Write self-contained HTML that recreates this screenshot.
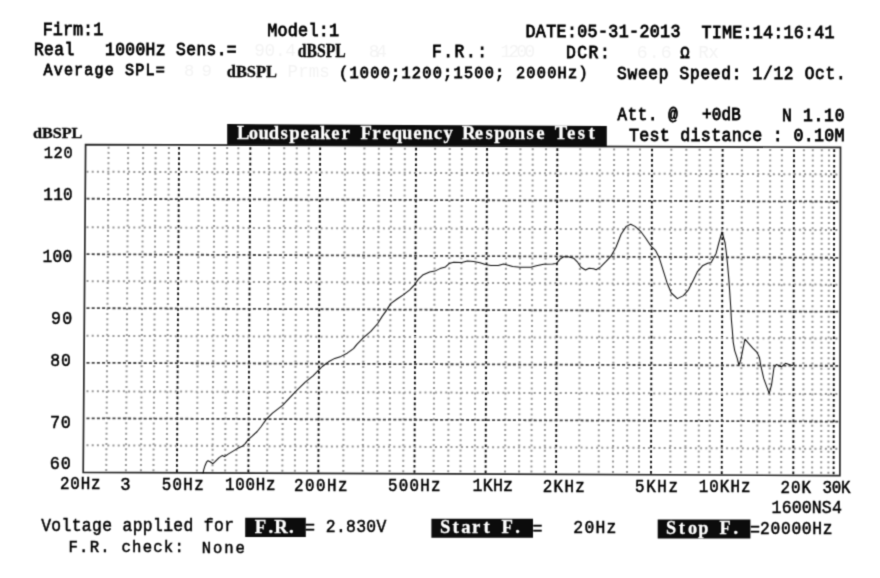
<!DOCTYPE html><html><head><meta charset="utf-8"><title>Loudspeaker Frequency Response Test</title><style>
html,body{margin:0;padding:0;background:#fff;width:880px;height:578px;overflow:hidden}
svg{display:block} text{white-space:pre}
.m,.w{font-family:"Liberation Mono",monospace;font-weight:bold;fill:#000;stroke:#000;stroke-width:0.05}.r{font-family:"Liberation Mono",monospace;fill:#000;stroke:#000;stroke-width:0.8}.l{font-family:"Liberation Mono",monospace;fill:#000;stroke:#000;stroke-width:0.5}
.w{fill:#fff;stroke:#fff;stroke-width:0.45}
.ws{font-family:"Liberation Serif",serif;font-weight:bold;fill:#fff;stroke:#fff;stroke-width:0.3}.s,.ss{font-family:"Liberation Serif",serif;font-weight:bold;fill:#0a0a0a;stroke:#0a0a0a;stroke-width:0.3}
.g{font-family:"Liberation Mono",monospace;fill:#f4f4f4}
</style></head><body>
<svg width="880" height="578" viewBox="0 0 880 578">
<defs><filter id="bl" x="0" y="0" width="880" height="578" filterUnits="userSpaceOnUse" color-interpolation-filters="sRGB"><feConvolveMatrix order="3" kernelMatrix="1 4 1 4 16 4 1 4 1" divisor="36" edgeMode="none"/></filter></defs>
<rect width="880" height="578" fill="#fff"/>
<g filter="url(#bl)"><rect width="880" height="578" fill="#fff"/>
<style>.vn,.hn{stroke:#999;stroke-width:2;stroke-dasharray:2 3.2}.vj{stroke:#111;stroke-width:1.9;stroke-dasharray:2.6 2.6}.hj{stroke:#444;stroke-width:1.8;stroke-dasharray:3 2.2}</style>
<g><line class="vn" x1="108.57" y1="146.68" x2="106.25" y2="471.91"/><line class="vn" x1="128.17" y1="146.75" x2="125.89" y2="472.00"/><line class="vn" x1="143.17" y1="146.81" x2="140.93" y2="472.06"/><line class="vn" x1="155.67" y1="146.85" x2="153.46" y2="472.12"/><line class="vn" x1="168.87" y1="146.90" x2="166.69" y2="472.17"/><line class="vj" x1="179.07" y1="146.93" x2="176.91" y2="472.22"/><line class="vn" x1="198.96" y1="147.01" x2="196.85" y2="472.30"/><line class="vn" x1="214.56" y1="147.06" x2="212.49" y2="472.37"/><line class="vn" x1="227.16" y1="147.11" x2="225.12" y2="472.43"/><line class="vn" x1="238.36" y1="147.15" x2="236.34" y2="472.48"/><line class="vj" x1="250.36" y1="147.19" x2="248.37" y2="472.53"/><line class="vn" x1="269.06" y1="147.26" x2="267.11" y2="472.61"/><line class="vn" x1="284.26" y1="147.31" x2="282.35" y2="472.68"/><line class="vn" x1="296.76" y1="147.36" x2="294.88" y2="472.73"/><line class="vn" x1="308.85" y1="147.40" x2="307.00" y2="472.78"/><line class="vj" x1="320.15" y1="147.44" x2="318.33" y2="472.83"/><line class="vn" x1="345.05" y1="147.53" x2="343.29" y2="472.94"/><line class="vn" x1="364.45" y1="147.60" x2="362.73" y2="473.03"/><line class="vn" x1="378.85" y1="147.65" x2="377.16" y2="473.09"/><line class="vn" x1="391.25" y1="147.69" x2="389.59" y2="473.14"/><line class="vn" x1="404.85" y1="147.74" x2="403.22" y2="473.20"/><line class="vj" x1="416.05" y1="147.78" x2="414.45" y2="473.25"/><line class="vn" x1="435.14" y1="147.85" x2="433.59" y2="473.33"/><line class="vn" x1="449.74" y1="147.90" x2="448.22" y2="473.40"/><line class="vn" x1="461.94" y1="147.95" x2="460.45" y2="473.45"/><line class="vn" x1="476.24" y1="148.00" x2="474.78" y2="473.51"/><line class="vj" x1="487.04" y1="148.04" x2="485.61" y2="473.56"/><line class="vn" x1="506.44" y1="148.11" x2="505.05" y2="473.65"/><line class="vn" x1="520.44" y1="148.16" x2="519.08" y2="473.71"/><line class="vn" x1="532.74" y1="148.20" x2="531.41" y2="473.76"/><line class="vn" x1="546.03" y1="148.25" x2="544.74" y2="473.82"/><line class="vj" x1="557.33" y1="148.29" x2="556.07" y2="473.87"/><line class="vn" x1="580.33" y1="148.37" x2="579.12" y2="473.97"/><line class="vn" x1="599.83" y1="148.44" x2="598.67" y2="474.05"/><line class="vn" x1="614.13" y1="148.49" x2="613.00" y2="474.12"/><line class="vn" x1="628.13" y1="148.54" x2="627.03" y2="474.18"/><line class="vn" x1="640.03" y1="148.58" x2="638.96" y2="474.23"/><line class="vj" x1="652.03" y1="148.63" x2="650.99" y2="474.28"/><line class="vn" x1="671.33" y1="148.69" x2="670.33" y2="474.36"/><line class="vn" x1="686.32" y1="148.75" x2="685.36" y2="474.43"/><line class="vn" x1="699.62" y1="148.80" x2="698.70" y2="474.49"/><line class="vn" x1="710.52" y1="148.84" x2="709.62" y2="474.54"/><line class="vj" x1="722.62" y1="148.88" x2="721.75" y2="474.59"/><line class="vn" x1="741.92" y1="148.95" x2="741.09" y2="474.67"/><line class="vn" x1="757.92" y1="149.00" x2="757.13" y2="474.74"/><line class="vn" x1="770.22" y1="149.05" x2="769.46" y2="474.80"/><line class="vn" x1="781.92" y1="149.09" x2="781.18" y2="474.85"/><line class="vj" x1="794.02" y1="149.13" x2="793.31" y2="474.90"/><line class="vn" x1="803.92" y1="149.17" x2="803.23" y2="474.94"/><line class="vn" x1="812.82" y1="149.20" x2="812.16" y2="474.98"/><line class="vn" x1="821.82" y1="149.23" x2="821.18" y2="475.02"/><line class="vn" x1="829.01" y1="149.26" x2="828.39" y2="475.05"/><line class="vj" x1="834.21" y1="149.28" x2="833.60" y2="475.08"/><line class="hn" x1="86.50" y1="445.30" x2="839.50" y2="448.81"/><line class="hj" x1="86.50" y1="418.31" x2="839.50" y2="421.61"/><line class="hn" x1="86.50" y1="391.22" x2="839.50" y2="394.09"/><line class="hj" x1="86.50" y1="362.81" x2="839.50" y2="365.80"/><line class="hn" x1="86.50" y1="335.82" x2="839.50" y2="338.49"/><line class="hj" x1="86.50" y1="308.10" x2="839.50" y2="311.72"/><line class="hn" x1="86.50" y1="281.10" x2="839.50" y2="284.72"/><line class="hj" x1="86.50" y1="254.20" x2="839.50" y2="257.82"/><line class="hn" x1="86.50" y1="227.32" x2="839.50" y2="229.99"/><line class="hj" x1="86.50" y1="198.72" x2="839.50" y2="201.59"/><line class="hn" x1="86.50" y1="171.72" x2="839.50" y2="174.39"/></g>
<polygon points="85.6,144.6 840.5,147.3 839.9,475.6 83.2,472.3" fill="none" stroke="#262626" stroke-width="1.7"/>
<polyline points="203.0,473.2 203.8,469.7 205.0,465.7 206.5,462.2 208.0,460.7 210.1,461.7 212.9,463.7 215.1,461.7 219.1,457.6 222.1,455.6 224.6,456.6 228.1,454.1 233.1,451.1 237.2,448.6 242.2,446.3 245.2,443.6 248.2,439.6 252.2,436.1 257.2,431.5 261.2,426.5 266.2,419.4 272.5,413.2 282.6,405.4 295.0,392.2 305.2,382.1 313.0,375.8 318.4,370.4 322.3,366.5 328.5,361.8 334.8,358.4 341.0,356.4 347.2,353.2 353.5,348.6 356.9,344.3 363.0,338.2 370.8,331.3 377.7,323.5 382.0,316.6 386.3,310.6 390.7,303.6 396.7,299.3 403.6,294.6 409.7,289.8 414.9,284.3 418.3,279.4 422.7,275.1 429.6,272.1 434.8,271.1 440.0,268.6 445.5,266.9 449.1,263.6 453.6,262.2 461.8,262.5 467.3,261.1 473.6,261.5 480.0,262.7 485.5,264.5 490.9,265.5 498.2,265.5 503.6,264.0 507.3,264.9 512.7,266.5 520.0,267.3 530.9,267.3 536.4,265.8 543.6,264.2 552.7,264.0 556.4,263.6 560.0,259.1 563.6,256.7 568.2,256.7 573.6,258.2 577.3,261.8 580.9,267.3 585.5,270.0 589.1,268.2 593.6,268.7 596.1,269.7 600.4,267.1 605.6,261.9 610.8,256.4 616.0,247.2 621.1,234.2 626.3,226.4 630.7,224.2 635.0,226.4 640.2,230.8 645.4,237.7 650.6,245.5 655.7,250.7 659.2,257.6 662.7,268.8 667.0,282.7 671.3,293.0 677.4,298.6 683.4,295.6 688.6,289.6 693.8,279.2 697.3,271.9 702.5,265.8 707.7,263.3 711.1,262.4 714.6,256.3 716.1,253.4 718.8,243.0 722.0,232.0 725.1,243.0 726.5,254.0 727.6,265.0 728.8,278.8 729.8,292.7 730.7,306.5 731.4,320.0 732.3,330.0 733.2,342.1 734.7,350.6 737.1,357.8 738.9,365.1 740.7,360.3 742.6,350.6 745.0,339.1 748.6,343.3 752.8,348.2 757.1,352.4 759.5,357.8 760.7,365.1 763.7,378.4 766.8,386.9 769.2,393.6 771.6,384.5 774.0,367.5 776.5,364.5 778.9,365.7 781.3,366.9 785.5,363.3 790.4,365.1 792.8,365.4" fill="none" stroke="#0d0d0d" stroke-width="1.05" stroke-linejoin="round" stroke-linecap="round"/>
<polygon points="227.2,124.1 606.8,125.9 606.8,146.2 227.2,144.7" fill="#0c0c0c"/>
<polygon points="245.2,517.7 305.8,517.7 305.8,536.9 245.2,536.9" fill="#0c0c0c"/>
<polygon points="431.4,518.8 533.0,518.8 533.0,537.8 431.4,537.8" fill="#0c0c0c"/>
<polygon points="657.7,519.4 750.4,519.4 750.4,538.4 657.7,538.4" fill="#0c0c0c"/>
<text id="t0" class="r" transform="translate(42.71,0) scale(0.9,1)" x="0" y="34.60" font-size="18.67" textLength="67.34" lengthAdjust="spacing">Firm:1</text>
<text id="t1" class="r" transform="translate(267.14,0) scale(0.9,1)" x="0" y="35.60" font-size="18.67" textLength="80.08" lengthAdjust="spacing">Model:1</text>
<text id="t2" class="r" transform="translate(525.48,0) scale(0.9,1)" x="0" y="37.30" font-size="18.52" textLength="172.20" lengthAdjust="spacing">DATE:05-31-2013</text>
<text id="t3" class="r" transform="translate(701.38,0) scale(0.9,1)" x="0" y="37.60" font-size="18.67" textLength="148.15" lengthAdjust="spacing">TIME:14:16:41</text>
<text id="t4" class="r" transform="translate(33.96,0) scale(0.9,1)" x="0" y="55.30" font-size="18.07" textLength="225.19" lengthAdjust="spacing">Real   1000Hz Sens.=</text>
<text id="t5" class="s" x="297.86" y="56.60" font-size="18.17" textLength="47.90" lengthAdjust="spacingAndGlyphs">dBSPL</text>
<text id="t6" class="r" transform="translate(432.06,0) scale(0.9,1)" x="0" y="57.20" font-size="18.07" textLength="60.99" lengthAdjust="spacing">F.R.:</text>
<text id="t7" class="r" transform="translate(566.00,0) scale(0.9,1)" x="0" y="57.80" font-size="18.22" textLength="48.65" lengthAdjust="spacing">DCR:</text>
<text id="t8" class="r" transform="translate(680.35,0) scale(0.9,1)" x="0" y="58.20" font-size="17.31">Ω</text>
<text id="t9" class="r" transform="translate(43.50,0) scale(0.9,1)" x="0" y="75.50" font-size="16.85" textLength="134.75" lengthAdjust="spacing">Average SPL=</text>
<text id="t10" class="s" x="226.79" y="76.80" font-size="17.56" textLength="50.15" lengthAdjust="spacingAndGlyphs">dBSPL</text>
<text id="t11" class="r" transform="translate(339.04,0) scale(0.9,1)" x="0" y="77.60" font-size="17.00" textLength="276.14" lengthAdjust="spacing">(1000;1200;1500; 2000Hz)</text>
<text id="t12" class="r" transform="translate(617.08,0) scale(0.9,1)" x="0" y="79.00" font-size="17.91" textLength="253.94" lengthAdjust="spacing">Sweep Speed: 1/12 Oct.</text>
<text id="t13" class="r" transform="translate(617.50,0) scale(0.9,1)" x="0" y="120.10" font-size="17.46" textLength="67.01" lengthAdjust="spacing">Att. @</text>
<text id="t14" class="r" transform="translate(701.89,0) scale(0.9,1)" x="0" y="120.30" font-size="17.76" textLength="43.23" lengthAdjust="spacing">+0dB</text>
<text id="t15" class="r" transform="translate(781.90,0) scale(0.9,1)" x="0" y="120.60" font-size="18.22" textLength="69.56" lengthAdjust="spacing">N 1.10</text>
<text id="t16" class="r" transform="translate(628.88,0) scale(0.9,1)" x="0" y="140.80" font-size="18.52" textLength="239.64" lengthAdjust="spacing">Test distance : 0.10M</text>
<text id="t17" class="s" x="32.97" y="138.00" font-size="15.58" textLength="49.39" lengthAdjust="spacingAndGlyphs">dBSPL</text>
<text id="t18" class="l" transform="translate(43.79,0) scale(0.9,1)" x="0" y="158.50" font-size="17.00" textLength="32.05" lengthAdjust="spacing">120</text>
<text id="t19" class="l" transform="translate(43.34,0) scale(0.9,1)" x="0" y="200.00" font-size="17.76" textLength="32.60" lengthAdjust="spacing">110</text>
<text id="t20" class="l" transform="translate(42.52,0) scale(0.9,1)" x="0" y="262.30" font-size="18.07" textLength="33.08" lengthAdjust="spacing">100</text>
<text id="t21" class="l" transform="translate(50.95,0) scale(0.9,1)" x="0" y="324.50" font-size="18.52" textLength="23.75" lengthAdjust="spacing">90</text>
<text id="t22" class="l" transform="translate(50.24,0) scale(0.9,1)" x="0" y="366.10" font-size="18.22" textLength="22.97" lengthAdjust="spacing">80</text>
<text id="t23" class="l" transform="translate(50.00,0) scale(0.9,1)" x="0" y="428.30" font-size="18.67" textLength="23.26" lengthAdjust="spacing">70</text>
<text id="t24" class="l" transform="translate(49.76,0) scale(0.9,1)" x="0" y="469.40" font-size="18.67" textLength="23.53" lengthAdjust="spacing">60</text>
<text id="t25" class="l" transform="translate(59.89,0) scale(0.9,1)" x="0" y="489.50" font-size="17.61" textLength="45.18" lengthAdjust="spacing">20Hz</text>
<text id="t26" class="l" transform="translate(120.32,0) scale(0.9,1)" x="0" y="490.00" font-size="19.13">3</text>
<text id="t27" class="l" transform="translate(161.71,0) scale(0.9,1)" x="0" y="490.00" font-size="17.61" textLength="46.60" lengthAdjust="spacing">50Hz</text>
<text id="t28" class="l" transform="translate(224.95,0) scale(0.9,1)" x="0" y="490.30" font-size="17.61" textLength="56.32" lengthAdjust="spacing">100Hz</text>
<text id="t29" class="l" transform="translate(294.09,0) scale(0.9,1)" x="0" y="490.60" font-size="17.61" textLength="59.40" lengthAdjust="spacing">200Hz</text>
<text id="t30" class="l" transform="translate(387.91,0) scale(0.9,1)" x="0" y="491.00" font-size="17.61" textLength="58.37" lengthAdjust="spacing">500Hz</text>
<text id="t31" class="l" transform="translate(472.60,0) scale(0.9,1)" x="0" y="491.40" font-size="18.52" textLength="45.02" lengthAdjust="spacing">1KHz</text>
<text id="t32" class="l" transform="translate(542.69,0) scale(0.9,1)" x="0" y="491.70" font-size="17.61" textLength="46.73" lengthAdjust="spacing">2KHz</text>
<text id="t33" class="l" transform="translate(635.11,0) scale(0.9,1)" x="0" y="492.10" font-size="17.61" textLength="47.60" lengthAdjust="spacing">5KHz</text>
<text id="t34" class="l" transform="translate(698.65,0) scale(0.9,1)" x="0" y="492.40" font-size="17.61" textLength="57.66" lengthAdjust="spacing">10KHz</text>
<text id="t35" class="l" transform="translate(780.49,0) scale(0.9,1)" x="0" y="492.70" font-size="17.61" textLength="34.03" lengthAdjust="spacing">20K</text>
<text id="t36" class="l" transform="translate(822.41,0) scale(0.9,1)" x="0" y="492.90" font-size="17.61" textLength="31.34" lengthAdjust="spacing">30K</text>
<text id="t37" class="l" transform="translate(771.61,0) scale(0.9,1)" x="0" y="513.50" font-size="18.37" textLength="78.04" lengthAdjust="spacing">1600NS4</text>
<text id="t38" class="l" transform="translate(41.17,0) scale(0.9,1)" x="0" y="531.25" font-size="18.14" textLength="214.22" lengthAdjust="spacing">Voltage applied for</text>
<text id="t39" class="l" transform="translate(305.06,0) scale(0.9,1)" x="0" y="533.40" font-size="18.52">=</text>
<text id="t40" class="l" transform="translate(325.85,0) scale(0.9,1)" x="0" y="532.30" font-size="18.22" textLength="67.21" lengthAdjust="spacing">2.830V</text>
<text id="t41" class="l" transform="translate(532.56,0) scale(0.9,1)" x="0" y="534.30" font-size="18.52">=</text>
<text id="t42" class="l" transform="translate(573.35,0) scale(0.9,1)" x="0" y="532.80" font-size="18.22" textLength="47.71" lengthAdjust="spacing">20Hz</text>
<text id="t43" class="l" transform="translate(750.06,0) scale(0.9,1)" x="0" y="535.10" font-size="18.52">=</text>
<text id="t44" class="l" transform="translate(760.11,0) scale(0.9,1)" x="0" y="533.70" font-size="18.07" textLength="80.47" lengthAdjust="spacing">20000Hz</text>
<text id="t45" class="l" transform="translate(68.52,0) scale(0.9,1)" x="0" y="552.50" font-size="17.38" textLength="128.10" lengthAdjust="spacing">F.R. check:</text>
<text id="t46" class="l" transform="translate(201.77,0) scale(0.9,1)" x="0" y="552.70" font-size="17.31" textLength="47.79" lengthAdjust="spacing">None</text>
<text id="t47" class="ws" transform="scale(0.96,1)" x="246.85 259.16 269.29 279.96 292.26 301.31 313.08 323.21 333.34 345.11 355.78 368.35 375.51 387.81 398.48 408.06 418.74 430.51 440.09 451.86 461.99 475.10 481.17 494.56 505.77 514.82 526.04 536.17 548.47 558.61 571.18 577.79 590.64 601.85 613.07" y="139.30" font-size="19.50">Loudspeaker Frequency Response Test</text>
<text id="t48" class="ws" transform="scale(0.96,1)" x="265.40 279.64 285.76 301.09" y="533.10" font-size="19.50">F.R.</text>
<text id="t49" class="ws" transform="scale(0.96,1)" x="458.34 471.28 480.42 491.74 503.59 515.17 522.42 536.71" y="533.20" font-size="19.50">Start F.</text>
<text id="t50" class="ws" transform="scale(0.96,1)" x="693.78 707.14 716.77 727.47 741.62 749.41 764.09" y="533.90" font-size="19.09">Stop F.</text>
<text id="t100" class="g" x="254.28" y="56.00" font-size="17.76" textLength="41.62" lengthAdjust="spacing">90.4</text>
<text id="t101" class="g" x="368.85" y="56.50" font-size="17.76" textLength="18.06" lengthAdjust="spacing">8.4</text>
<text id="t102" class="g" x="500.52" y="57.00" font-size="17.76" textLength="34.58" lengthAdjust="spacing">1200</text>
<text id="t103" class="g" x="636.66" y="57.80" font-size="18.22" textLength="35.13" lengthAdjust="spacing">6.6</text>
<text id="t104" class="g" x="698.19" y="58.00" font-size="17.76" textLength="20.64" lengthAdjust="spacing">Rx</text>
<text id="t105" class="g" x="183.88" y="75.80" font-size="17.31" textLength="27.92" lengthAdjust="spacing">89</text>
<text id="t106" class="g" x="287.62" y="76.80" font-size="17.46" textLength="42.02" lengthAdjust="spacing">Prms</text>
</g>
</svg></body></html>
